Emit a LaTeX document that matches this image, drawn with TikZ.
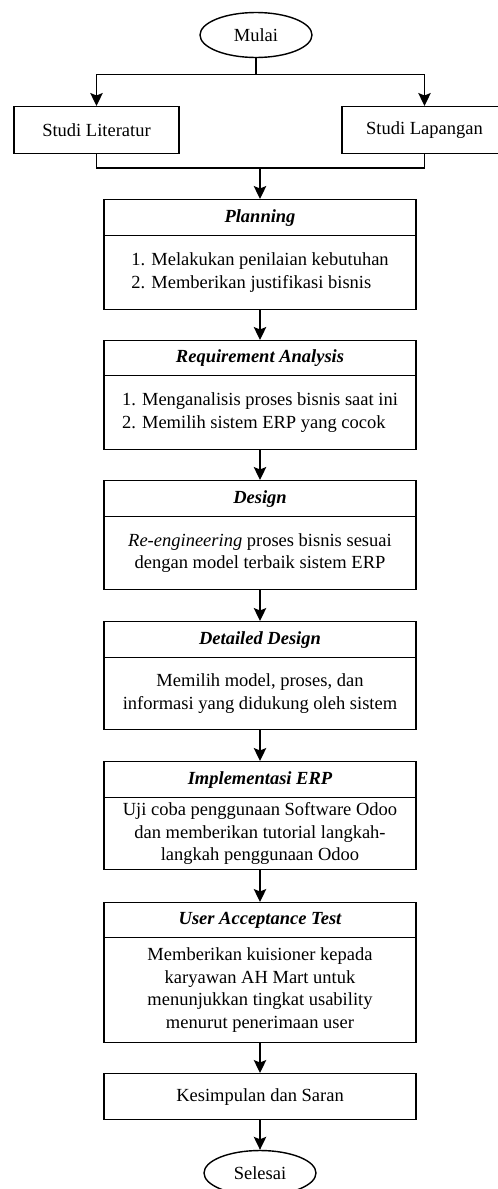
\documentclass[tikz,border=0pt]{standalone}
\usepackage{fontspec}
\setmainfont{Liberation Serif}
\usetikzlibrary{shapes.geometric,arrows.meta}

\tikzset{
  base/.style={font=\fontsize{18.5}{22.5}\selectfont, inner sep=0pt, line width=1.4pt},
  terminal/.style={base, draw, ellipse, minimum width=112pt, minimum height=45pt},
  studybox/.style={base, draw, rectangle, minimum width=165pt, minimum height=47pt, anchor=north},
  headbox/.style={base, draw, rectangle, minimum width=312pt, anchor=north,
    font=\fontsize{18.5}{22.5}\selectfont\bfseries\itshape},
  bodybox/.style={base, draw, rectangle, minimum width=312pt, anchor=north, align=center},
  link/.style={line width=1.4pt},
  flow/.style={link, -{Stealth[length=13pt, width=12.5pt, inset=2.5pt]}}
}

\begin{document}
\begin{tikzpicture}[x=1pt, y=-1pt]
  \useasboundingbox (0,0) rectangle (498,1189);
  \clip (0,0) rectangle (498,1189);
  \fill[white] (0,0) rectangle (498,1189);

  % start
  \node[terminal] (mulai) at (256,35) {Mulai};

  % literature and field studies
  \node[studybox] (lit) at (96.5,106) {Studi Literatur};
  \node[studybox] (lap) at (424.5,106) {Studi Lapangan};

  % planning
  \node[headbox, minimum height=36pt] (planH) at (260,199) {Planning};
  \node[bodybox, minimum height=74pt, align=left] (planB) at (260,235)
    {1. Melakukan penilaian kebutuhan\\2. Memberikan justifikasi bisnis};

  % requirement analysis
  \node[headbox, minimum height=35pt] (reqH) at (260,340) {Requirement Analysis};
  \node[bodybox, minimum height=74pt, align=left] (reqB) at (260,375)
    {1. Menganalisis proses bisnis saat ini\\2. Memilih sistem ERP yang cocok};

  % design
  \node[headbox, minimum height=36pt] (desH) at (260,480) {Design};
  \node[bodybox, minimum height=73pt] (desB) at (260,516)
    {\textit{Re-engineering} proses bisnis sesuai\\dengan model terbaik sistem ERP};

  % detailed design
  \node[headbox, minimum height=36pt] (detH) at (260,621) {Detailed Design};
  \node[bodybox, minimum height=72pt] (detB) at (260,657)
    {Memilih model, proses, dan\\informasi yang didukung oleh sistem};

  % implementation
  \node[headbox, minimum height=36pt] (impH) at (260,761) {Implementasi ERP};
  \node[bodybox, minimum height=72pt] (impB) at (260,797)
    {Uji coba penggunaan Software Odoo\\dan memberikan tutorial langkah-\\langkah penggunaan Odoo};

  % user acceptance test
  \node[headbox, minimum height=35pt] (uatH) at (260,902) {User Acceptance Test};
  \node[bodybox, minimum height=105pt] (uatB) at (260,937)
    {Memberikan kuisioner kepada\\karyawan AH Mart untuk\\menunjukkan tingkat usability\\menurut penerimaan user};

  % conclusion and end
  \node[bodybox, minimum height=46pt] (kes) at (260,1073) {Kesimpulan dan Saran};
  \node[terminal] (selesai) at (260,1173) {Selesai};

  % split after start
  \coordinate (split) at (256,74.5);
  \draw[link] (mulai.south) -- (split);
  \draw[flow] (split) -| (lit.north);
  \draw[flow] (split) -| (lap.north);

  % merge of the two studies
  \coordinate (merge) at (260,168);
  \draw[link] (lit.south) |- (merge) -| (lap.south);
  \draw[flow] (merge) -- (planH.north);

  % main sequence
  \draw[flow] (planB.south) -- (reqH.north);
  \draw[flow] (reqB.south) -- (desH.north);
  \draw[flow] (desB.south) -- (detH.north);
  \draw[flow] (detB.south) -- (impH.north);
  \draw[flow] (impB.south) -- (uatH.north);
  \draw[flow] (uatB.south) -- (kes.north);
  \draw[flow] (kes.south) -- (selesai.north);
\end{tikzpicture}
\end{document}
